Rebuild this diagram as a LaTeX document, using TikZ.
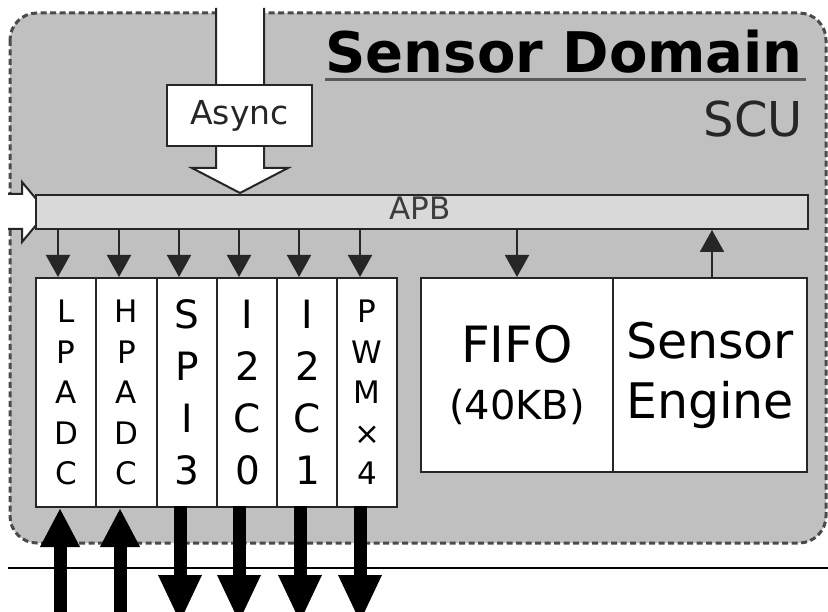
\documentclass[tikz,border=0pt]{standalone}
\usepackage{fontspec}
\setmainfont{DejaVu Sans}
\usetikzlibrary{arrows.meta}
\definecolor{domfill}{HTML}{C0C0C0}
\definecolor{busfill}{HTML}{D9D9D9}
\definecolor{edge}{HTML}{262626}
\definecolor{dotgray}{HTML}{4A4A4A}
\definecolor{rulegray}{HTML}{5A5A5A}
\tikzset{
  box/.style={draw=edge, line width=2pt, fill=white, inner sep=0pt},
  pbox/.style={box, minimum width=60.5pt, minimum height=229pt, align=center},
  pthin/.style={font=\fontsize{31}{40.5}\selectfont},
  pwide/.style={font=\fontsize{39}{52}\selectfont},
  blockarrow/.style={draw=edge, line width=2pt, fill=white, line join=miter},
  smallarrow/.style={draw=edge, line width=2pt, -{Triangle[length=22pt,width=24pt]}},
  uparrow/.style={draw=black, line width=13pt, -{Triangle[length=39pt,width=37pt]}},
  downarrow/.style={draw=black, line width=13pt, -{Triangle[length=48pt,width=40pt]}},
}
\begin{document}
\begin{tikzpicture}[x=1pt,y=-1pt]
\useasboundingbox (0,0) rectangle (828,612);

% sensor domain background
\draw[fill=domfill, draw=dotgray, line width=3pt, dash pattern=on 6pt off 3.5pt, rounded corners=27pt]
  (10,13) rectangle (826,543);
% board line
\draw[black, line width=2pt] (8,568) -- (828,568);

% incoming block arrows
\draw[blockarrow] (216,8) -- (216,168) -- (192,168) -- (240,193) -- (288,168) -- (264,168) -- (264,8);
\node[box, minimum width=145pt, minimum height=61pt, font=\fontsize{33}{36}\selectfont, text=edge] (async) at (239.5,115.5) {Async};
\draw[blockarrow] (8,194) -- (22,194) -- (22,182) -- (47,212) -- (22,242) -- (22,229) -- (8,229);

% APB bus
\node[draw=edge, line width=2pt, fill=busfill, minimum width=772pt, minimum height=34pt, inner sep=0pt] (apb) at (422,212) {};
\node[inner sep=0pt, font=\fontsize{31}{34}\selectfont, text=edge!90] (apblabel) at (420,208.5) {APB};

% peripherals
\node[pbox, pthin] (lp)  at (66,392.5)    {L\\P\\A\\D\\C};
\node[pbox, pthin] (hp)  at (126.5,392.5) {H\\P\\A\\D\\C};
\node[pbox, pwide] (spi) at (187,392.5)   {S\\P\\I\\3};
\node[pbox, pwide] (ia)  at (247.5,392.5) {I\\2\\C\\0};
\node[pbox, pwide] (ib)  at (307.5,392.5) {I\\2\\C\\1};
\node[pbox, pthin] (pwm) at (367,392.5)   {P\\W\\M\\×\\4};

\node[box, minimum width=192pt, minimum height=194pt, align=center, font=\fontsize{50}{57}\selectfont] (fifo) at (517,375)
  {FIFO\\{\fontsize{40}{48}\selectfont (40KB)}};
\node[box, minimum width=194pt, minimum height=194pt, align=center, font=\fontsize{49}{60}\selectfont] (eng) at (710,375)
  {Sensor\\Engine};

% bus taps
\foreach \x [count=\i] in {58,119,179,239,299,360}
  \coordinate (t\i) at (\x,277);
\foreach \i in {1,...,6}
  \draw[smallarrow] (apb.south -| t\i) -- (t\i);
\coordinate (tf) at (517,277);
\draw[smallarrow] (apb.south -| tf) -- (tf);
\coordinate (te) at (712,277);
\draw[smallarrow] (te) -- (apb.south -| te);

% external signals
\coordinate (u1) at (60,630);  \coordinate (v1) at (60,508);
\coordinate (u2) at (120,630); \coordinate (v2) at (120,508);
\draw[uparrow] (u1) -- (v1);
\draw[uparrow] (u2) -- (v2);
\foreach \x [count=\i] in {180,239,300,360} {
  \coordinate (d\i) at (\x,506);
  \coordinate (o\i) at (\x,623);
  \draw[downarrow] (d\i) -- (o\i);
}

% titles
\node[anchor=base east, inner sep=0pt, font=\bfseries\fontsize{56}{60}\selectfont] (title) at (803,73) {Sensor Domain};
\draw[rulegray, line width=3pt] (title.base west) ++(0,7) -- ++(481,0);
\node[anchor=base east, inner sep=0pt, font=\fontsize{48}{52}\selectfont, text=edge] (scu) at (803,137) {SCU};
\end{tikzpicture}
\end{document}
